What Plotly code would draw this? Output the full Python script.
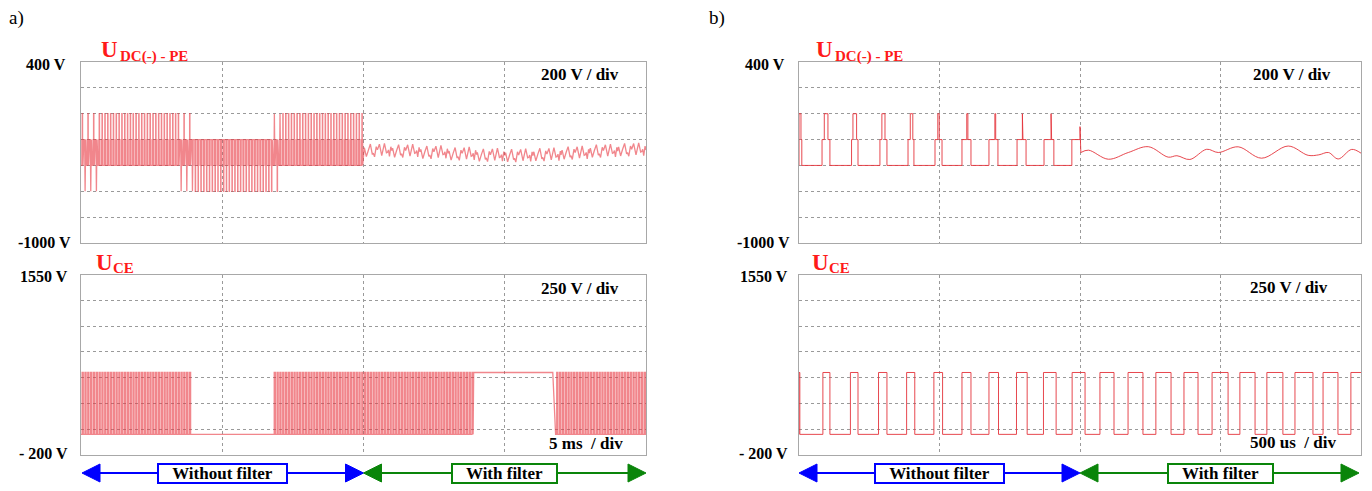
import numpy as np
import plotly.graph_objects as go

FIG_W, FIG_H = 1372, 491

# ---------------- panel a : 5 ms / div ----------------
a_t_range = [0.0, 20.0]            # ms
a_t_div = 5.0
a_sw_period = 0.1                  # ms (10 kHz switching)
a_filter_on = 10.0                 # ms
a_cycle_edges = [0.30, 0.45, 0.55, 0.70]   # switching instants inside one period (fraction)

udc_a_upper_spans = [[0.0, 3.86], [6.76, 10.0]]    # cycles reaching 0 V
udc_a_lower_spans = [[0.0, 0.57], [3.50, 7.15]]    # cycles reaching -600 V
udc_a_upper_levels = [-400, -200, 0]
udc_a_lower_levels = [-200, -400, -600]
udc_a_filtered_mean = [-285, -290, -300, -312, -322, -325, -318, -305, -290, -280]  # per ms after 10 ms

uce_a_switch_spans = [[0.0, 3.86], [6.76, 13.89], [16.85, 20.0]]
uce_a_hold = [[3.86, 6.76, 0], [13.89, 16.85, 600]]
uce_a_on_edges = [0.40, 0.80]
uce_levels = [0, 600]

# ---------------- panel b : 500 us / div ----------------
b_t_range = [0, 2000]              # us
b_t_div = 500
b_filter_on = 1000
uce_b_on = [[0, 3], [85, 110], [183, 210], [283, 313], [383, 412], [480, 511],
            [580, 612], [676, 710], [774, 812], [870, 915], [972, 1018],
            [1071, 1121], [1171, 1224], [1270, 1324], [1370, 1420], [1470, 1527],
            [1569, 1623], [1665, 1722], [1765, 1829], [1865, 1918], [1964, 2000]]
udc_b_levels = [-400, -200, 0]
udc_b_mid = [[0, 10], [82, 110], [187, 210], [288, 313], [388, 409], [484, 509],
             [580, 612], [676, 708], [776, 808], [872, 907], [971, 1000]]
udc_b_peak = [[0, 7], [90, 103], [192, 205], [295, 306], [396, 405], [494, 499],
              [597, 601], [697, 700], [795, 797], [897, 899]]
udc_b_transient = [[1000, -100], [1003, -300]]
udc_b_ripple_t = [1003, 1030, 1101, 1172, 1243, 1314, 1345, 1391, 1451, 1492,
                  1563, 1646, 1741, 1812, 1850, 1884, 1919, 1967, 2000]
udc_b_ripple_v = [-300, -282, -352, -300, -255, -336, -325, -354, -275, -300,
                  -256, -344, -250, -322, -318, -300, -350, -276, -305]

# axis ranges
udc_range, udc_div = [-1000, 400], 200
uce_range, uce_div = [-200, 1550], 250

# ---------------- layout geometry (pixels) ----------------
LEFT_X = (81, 646)
RIGHT_X = (799, 1361)
TOP_Y = (62, 243)
BOT_Y = (274.5, 455)


def px_x(p):
    return p / FIG_W


def px_y(p):
    return 1 - p / FIG_H


def in_spans(t, spans):
    return any(a <= t < b for a, b in spans)


# ---------------- waveform construction ----------------
def udc_a_wave():
    xs, ys = [], []
    n = int(round(a_filter_on / a_sw_period))
    for k in range(n):
        t0 = k * a_sw_period
        tc = t0 + 0.5 * a_sw_period
        up = in_spans(tc, udc_a_upper_spans)
        lo = in_spans(tc, udc_a_lower_spans)
        if up and lo:
            lv = udc_a_upper_levels if k % 2 == 0 else udc_a_lower_levels
        elif lo:
            lv = udc_a_lower_levels
        else:
            lv = udc_a_upper_levels
        b, m, p = lv
        e = [t0 + f * a_sw_period for f in a_cycle_edges]
        pts = [(t0, b), (e[0], b), (e[0], m), (e[1], m), (e[1], p), (e[2], p),
               (e[2], m), (e[3], m), (e[3], b)]
        for x, y in pts:
            xs.append(x)
            ys.append(y)
    # filtered part: the same ripple record laid over each millisecond
    rt = np.array(udc_b_ripple_t, dtype=float)
    rv = np.array(udc_b_ripple_v, dtype=float)
    rv = rv - rv.mean()
    for j, mean in enumerate(udc_a_filtered_mean):
        xs.extend(a_filter_on + j + (rt - b_filter_on) / 1000.0)
        ys.extend(rv + mean)
    return xs, ys


def uce_a_wave():
    xs, ys = [], []
    lo_v, hi_v = uce_levels
    n = int(round((a_t_range[1] - a_t_range[0]) / a_sw_period))
    for k in range(n):
        t0 = k * a_sw_period
        tc = t0 + 0.5 * a_sw_period
        if in_spans(tc, uce_a_switch_spans):
            e0 = t0 + uce_a_on_edges[0] * a_sw_period
            e1 = t0 + uce_a_on_edges[1] * a_sw_period
            pts = [(t0, lo_v), (e0, lo_v), (e0, hi_v), (e1, hi_v), (e1, lo_v)]
        else:
            level = lo_v
            for a, b, v in uce_a_hold:
                if a <= tc < b:
                    level = v
            pts = [(t0, level)]
        for x, y in pts:
            xs.append(x)
            ys.append(y)
    xs.append(a_t_range[1])
    ys.append(ys[-1])
    return xs, ys


def udc_b_wave():
    base, mid, peak = udc_b_levels
    xs, ys = [0], [base]
    for i, (r, f) in enumerate(udc_b_mid):
        pts = [(r, base), (r, mid)]
        if i < len(udc_b_peak):
            s1, s2 = udc_b_peak[i]
            pts += [(s1, mid), (s1, peak), (s2, peak), (s2, mid)]
        pts.append((f, mid))
        if i < len(udc_b_peak):
            pts.append((f, base))
        for x, y in pts:
            xs.append(x)
            ys.append(y)
    for x, y in udc_b_transient:
        xs.append(x)
        ys.append(y)
    return xs, ys


def uce_b_wave():
    lo_v, hi_v = uce_levels
    xs, ys = [], []
    for a, b in uce_b_on:
        xs += [a, a, b]
        ys += [lo_v, hi_v, hi_v]
        if b < b_t_range[1]:
            xs.append(b)
            ys.append(lo_v)
    return xs, ys


WAVE = "rgba(228,52,60,0.9)"
DENSE = "rgba(232,60,70,0.62)"

fig = go.Figure()
x1, y1 = udc_a_wave()
fig.add_trace(go.Scatter(x=x1, y=y1, mode="lines", line=dict(color=DENSE, width=1.3),
                         xaxis="x", yaxis="y", hoverinfo="skip"))
x3, y3 = uce_a_wave()
fig.add_trace(go.Scatter(x=x3, y=y3, mode="lines", line=dict(color=DENSE, width=1.3),
                         xaxis="x3", yaxis="y3", hoverinfo="skip"))
x2, y2 = udc_b_wave()
fig.add_trace(go.Scatter(x=x2, y=y2, mode="lines", line=dict(color=WAVE, width=1),
                         xaxis="x2", yaxis="y2", hoverinfo="skip"))
fig.add_trace(go.Scatter(x=udc_b_ripple_t, y=udc_b_ripple_v, mode="lines",
                         line=dict(color=WAVE, width=1, shape="spline", smoothing=1.0),
                         xaxis="x2", yaxis="y2", hoverinfo="skip"))
x4, y4 = uce_b_wave()
fig.add_trace(go.Scatter(x=x4, y=y4, mode="lines", line=dict(color=WAVE, width=1),
                         xaxis="x4", yaxis="y4", hoverinfo="skip"))

GRID = "#9a9a9a"
FRAME = "#a8a8a8"


def xax(dom, rng, dtick, anchor):
    return dict(domain=[px_x(dom[0]), px_x(dom[1])], range=rng, dtick=dtick, tick0=rng[0],
                anchor=anchor, showgrid=True, gridcolor=GRID, griddash="dot", gridwidth=1,
                showticklabels=False, ticks="", zeroline=False, showline=True,
                linecolor=FRAME, linewidth=1, mirror=True, fixedrange=True)


def yax(dom, rng, dtick, anchor):
    return dict(domain=[px_y(dom[1]), px_y(dom[0])], range=rng, dtick=dtick, tick0=rng[0],
                anchor=anchor, showgrid=True, gridcolor=GRID, griddash="dot", gridwidth=1,
                showticklabels=False, ticks="", zeroline=False, showline=True,
                linecolor=FRAME, linewidth=1, mirror=True, fixedrange=True)


SERIF = "Liberation Serif"
annotations = []


def text(x, y, s, size, color="black", bold=True, xanchor="left", yanchor="middle"):
    annotations.append(dict(x=px_x(x), y=px_y(y), xref="paper", yref="paper", text=s,
                            showarrow=False, xanchor=xanchor, yanchor=yanchor,
                            font=dict(family=SERIF, size=size, color=color,
                                      weight="bold" if bold else "normal")))


def axis_label(yref, yval, s, xdom_ref, xshift, yshift):
    annotations.append(dict(x=0, xref=xdom_ref, y=yval, yref=yref, text=s, showarrow=False,
                            xanchor="right", yanchor="middle", xshift=xshift, yshift=yshift,
                            font=dict(family=SERIF, size=16, color="black", weight="bold")))


# panel titles
text(7, 18, "a)", 19, bold=False)
text(707, 18, "b)", 19, bold=False)

# voltage scale labels
for xd, shifts in (("x domain", (-13, -8, -11, -11)), ("x2 domain", (-12, -7, -9, -9))):
    yt, yb = ("y", "y3") if xd == "x domain" else ("y2", "y4")
    axis_label(yt, udc_range[1], "400 V", xd, shifts[0], -2)
    axis_label(yt, udc_range[0], "-1000 V", xd, shifts[1], 1)
    axis_label(yb, uce_range[1], "1550 V", xd, shifts[2], -2)
    axis_label(yb, uce_range[0], "- 200 V", xd, shifts[3], 2)

# signal names
RED = "#ff1a1a"
for ux, sx in ((99, 118), (814, 833)):
    text(ux, 49, "U", 23, RED)
    text(sx, 56, "DC(-) - PE", 15, RED)
for ux, sx in ((94, 111), (810, 827)):
    text(ux, 262, "U", 23, RED)
    text(sx, 268, "CE", 15, RED)

# scale annotations
text(621, 75, "200 V / div", 17, xanchor="right")
text(1333, 75, "200 V / div", 17, xanchor="right")
text(621, 288, "250 V / div", 17, xanchor="right")
text(1330, 287, "250 V / div", 17, xanchor="right")
text(625, 443, "5 ms  / div", 17, xanchor="right")
text(1338, 442, "500 us  / div", 17, xanchor="right")

# filter state arrows under each panel
shapes = []
ARROW_Y = px_y(473)


def arrow(xref, t0, t1, px_per_unit, color):
    hl = 18.0 / px_per_unit
    hh = 9.0 / FIG_H
    shapes.append(dict(type="line", xref=xref, yref="paper", x0=t0 + hl * 0.5, x1=t1 - hl * 0.5,
                       y0=ARROW_Y, y1=ARROW_Y, line=dict(color=color, width=2)))
    for tip, sgn in ((t0, 1), (t1, -1)):
        path = (f"M {tip},{ARROW_Y} L {tip + sgn * hl},{ARROW_Y + hh} "
                f"L {tip + sgn * hl},{ARROW_Y - hh} Z")
        shapes.append(dict(type="path", xref=xref, yref="paper", path=path,
                           fillcolor=color, line=dict(color=color, width=1)))


def state_box(xref, t, label, color, width):
    annotations.append(dict(x=t, xref=xref, y=ARROW_Y, yref="paper", text=label,
                            showarrow=False, xanchor="center", yanchor="middle",
                            bgcolor="white", bordercolor=color, borderwidth=2, borderpad=1,
                            width=width, height=15,
                            font=dict(family=SERIF, size=17, color="black", weight="bold")))


BLUE, GREEN = "#0000ff", "#0a850a"
a_ppu = (LEFT_X[1] - LEFT_X[0]) / (a_t_range[1] - a_t_range[0])
b_ppu = (RIGHT_X[1] - RIGHT_X[0]) / (b_t_range[1] - b_t_range[0])
arrow("x3", a_t_range[0] + 1 / a_ppu, a_filter_on, a_ppu, BLUE)
arrow("x3", a_filter_on, a_t_range[1], a_ppu, GREEN)
arrow("x4", b_t_range[0], b_filter_on, b_ppu, BLUE)
arrow("x4", b_filter_on, b_t_range[1] - 2 / b_ppu, b_ppu, GREEN)
state_box("x3", (a_t_range[0] + a_filter_on) / 2, "Without filter", BLUE, 125)
state_box("x3", (a_filter_on + a_t_range[1]) / 2, "With filter", GREEN, 101)
state_box("x4", (b_t_range[0] + b_filter_on) / 2, "Without filter", BLUE, 125)
state_box("x4", (b_filter_on + b_t_range[1]) / 2, "With filter", GREEN, 101)

fig.update_layout(
    width=FIG_W, height=FIG_H,
    margin=dict(l=0, r=0, t=0, b=0),
    paper_bgcolor="white", plot_bgcolor="white",
    showlegend=False,
    xaxis=xax(LEFT_X, a_t_range, a_t_div, "y"),
    yaxis=yax(TOP_Y, udc_range, udc_div, "x"),
    xaxis2=xax(RIGHT_X, b_t_range, b_t_div, "y2"),
    yaxis2=yax(TOP_Y, udc_range, udc_div, "x2"),
    xaxis3=xax(LEFT_X, a_t_range, a_t_div, "y3"),
    yaxis3=yax(BOT_Y, uce_range, uce_div, "x3"),
    xaxis4=xax(RIGHT_X, b_t_range, b_t_div, "y4"),
    yaxis4=yax(BOT_Y, uce_range, uce_div, "x4"),
    annotations=annotations,
    shapes=shapes,
)

fig.write_html("out.html")
